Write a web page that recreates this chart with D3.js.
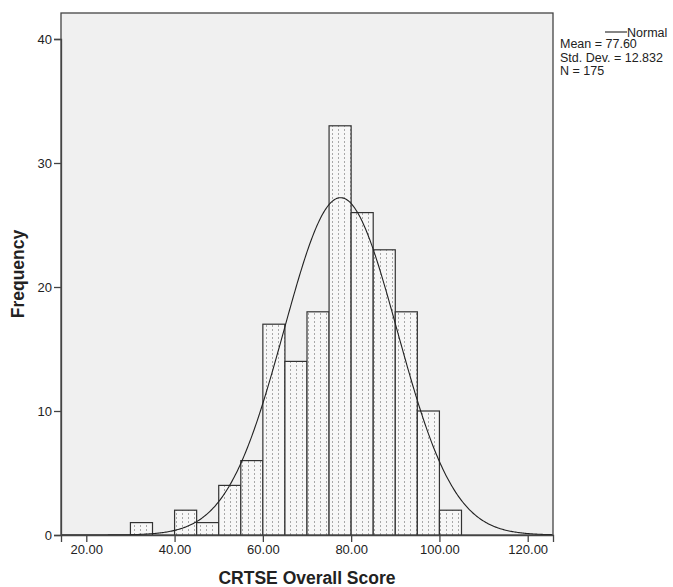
<!DOCTYPE html>
<html>
<head>
<meta charset="utf-8">
<script src="https://cdn.jsdelivr.net/npm/d3@7"></script>
<style>
  body { margin: 0; background: #fff; }
  svg text { font-family: "Liberation Sans", Arial, sans-serif; fill: #222; }
</style>
</head>
<body>
<main></main>
<script>
// histogram bins (lower edge) and counts
const binStarts = [30, 35, 40, 45, 50, 55, 60, 65, 70, 75, 80, 85, 90, 95, 100];
const counts = [1, 0, 2, 1, 4, 6, 17, 14, 18, 33, 26, 23, 18, 10, 2];
const binWidth = 5;
const xTicks = [20, 40, 60, 80, 100, 120];
const yTicks = [0, 10, 20, 30, 40];
const mean = 77.60, sd = 12.832, n = 175;
const legendLines = ["Mean = 77.60", "Std. Dev. = 12.832", "N = 175"];

const width = 673, height = 587;
const margin = { top: 13, right: 120, bottom: 52, left: 61 };

const svg = d3.select("main").append("svg")
    .attr("width", width)
    .attr("height", height);

const x = d3.scaleLinear().domain([14.27, 125.73]).range([margin.left, width - margin.right]);
const y = d3.scaleLinear().domain([0, 40]).range([height - margin.bottom, 39]);

// dotted fill for bars
const pat = svg.append("defs").append("pattern")
    .attr("id", "dots")
    .attr("patternUnits", "userSpaceOnUse")
    .attr("width", 6).attr("height", 4);
pat.append("rect").attr("width", 6).attr("height", 4).attr("fill", "#f7f7f7");
pat.append("rect").attr("x", 2).attr("y", 1).attr("width", 1).attr("height", 2).attr("fill", "#a8a8a8");

// plot background
svg.append("rect")
    .attr("x", margin.left).attr("y", margin.top)
    .attr("width", width - margin.right - margin.left)
    .attr("height", height - margin.bottom - margin.top)
    .attr("fill", "#f0f0f0")
    .attr("stroke", "#444").attr("stroke-width", 1.3);

// bars
svg.append("g").selectAll("rect")
    .data(binStarts.map((b, i) => ({ b, c: counts[i] })).filter(d => d.c > 0))
    .join("rect")
    .attr("x", d => x(d.b))
    .attr("y", d => y(d.c))
    .attr("width", d => x(d.b + binWidth) - x(d.b))
    .attr("height", d => y(0) - y(d.c))
    .attr("fill", "url(#dots)")
    .attr("stroke", "#333").attr("stroke-width", 1.2);

// normal curve
const curve = d3.range(14.27, 125.73, 0.25).map(v => {
    const z = (v - mean) / sd;
    return [v, n * binWidth * Math.exp(-0.5 * z * z) / (sd * Math.sqrt(2 * Math.PI))];
});
svg.append("path")
    .attr("d", d3.line().x(d => x(d[0])).y(d => y(d[1]))(curve))
    .attr("fill", "none")
    .attr("stroke", "#222").attr("stroke-width", 1.1);

// axes
const xAxis = svg.append("g")
    .attr("transform", `translate(0,${y(0)})`)
    .call(d3.axisBottom(x).tickValues(xTicks).tickFormat(d3.format(".2f")).tickSize(7).tickPadding(3));
const yAxis = svg.append("g")
    .attr("transform", `translate(${margin.left},0)`)
    .call(d3.axisLeft(y).tickValues(yTicks).tickSize(7).tickPadding(2));
[xAxis, yAxis].forEach(a => {
    a.select(".domain").attr("stroke", "#444").attr("stroke-width", 1.3);
    a.selectAll(".tick line").attr("stroke", "#444").attr("stroke-width", 1.3);
    a.selectAll("text").attr("font-size", 13).attr("fill", "#222");
});

// axis titles
svg.append("text")
    .attr("x", 307).attr("y", 584)
    .attr("text-anchor", "middle")
    .attr("font-size", 17.5).attr("font-weight", "bold")
    .text("CRTSE Overall Score");
svg.append("text")
    .attr("transform", `translate(24,${(margin.top + y(0)) / 2}) rotate(-90)`)
    .attr("text-anchor", "middle")
    .attr("font-size", 17.5).attr("font-weight", "bold")
    .text("Frequency");

// legend
const lg = svg.append("g");
lg.append("line").attr("x1", 605).attr("x2", 627).attr("y1", 32).attr("y2", 32)
    .attr("stroke", "#222").attr("stroke-width", 1.1);
lg.append("text").attr("x", 627).attr("y", 36.5).attr("font-size", 12.5).text("Normal");
lg.selectAll("text.stat")
    .data(legendLines)
    .join("text")
    .attr("class", "stat")
    .attr("x", 560).attr("y", (d, i) => 48 + i * 13.5)
    .attr("font-size", 12.5)
    .text(d => d);
</script>
</body>
</html>
